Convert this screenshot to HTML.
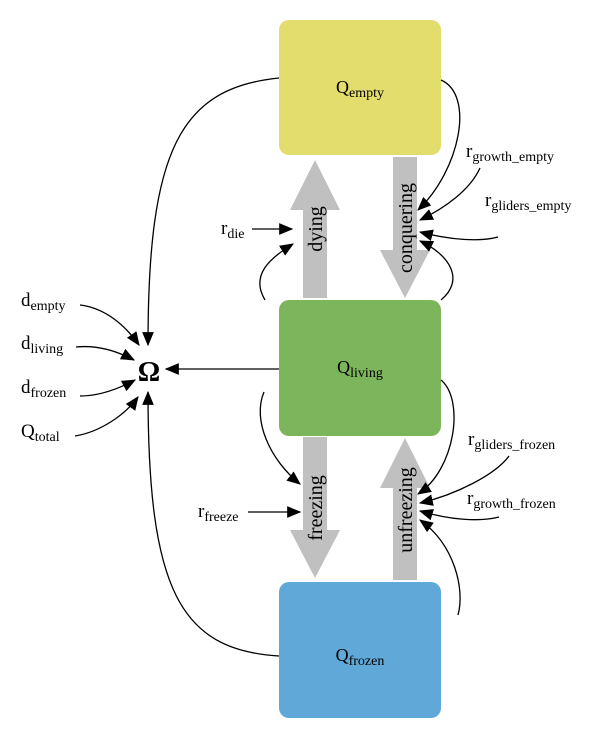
<!DOCTYPE html>
<html><head><meta charset="utf-8"><style>
html,body{margin:0;padding:0;background:#fff;}
svg{display:block;font-family:"Liberation Serif",serif;}
</style></head><body>
<svg width="600" height="741" viewBox="0 0 600 741" xmlns="http://www.w3.org/2000/svg">
<defs>
<marker id="a" viewBox="0 0 12 10" refX="11" refY="5" markerWidth="14" markerHeight="12" markerUnits="userSpaceOnUse" orient="auto">
<path d="M0,0 L12,5 L0,10 z" fill="#000"/>
</marker>
</defs>
<rect x="279" y="20" width="162" height="135" rx="10" fill="#e2dd6c"/>
<rect x="279" y="300" width="162" height="136" rx="10" fill="#7db55d"/>
<rect x="279" y="582" width="162" height="136" rx="10" fill="#5fa8d8"/>
<g font-size="18" text-anchor="middle">
<text x="360" y="93">Q<tspan font-size="14" dy="4">empty</tspan></text>
<text x="360" y="373">Q<tspan font-size="14" dy="4">living</tspan></text>
<text x="360" y="661">Q<tspan font-size="14" dy="4">frozen</tspan></text>
</g>
<g fill="#c0c0c0">
<polygon points="303,298 327,298 327,210 340,210 315,160 290,210 303,210"/>
<polygon points="393,157 417,157 417,250 430,250 405,298 380,250 393,250"/>
<polygon points="303,437 327,437 327,530 340,530 315,578 290,530 303,530"/>
<polygon points="393,580 417,580 417,488 430,488 405,438 380,488 393,488"/>
</g>
<g font-size="20" text-anchor="middle">
<text transform="translate(322,229) rotate(-90)">dying</text>
<text transform="translate(412,228) rotate(-90)">conquering</text>
<text transform="translate(322,508) rotate(-90)">freezing</text>
<text transform="translate(412,510) rotate(-90)">unfreezing</text>
</g>
<text x="149" y="381" font-size="28" font-weight="bold" text-anchor="middle">Ω</text>
<g fill="none" stroke="#000" stroke-width="1.3">
<path d="M279,78 C180,88 148,150 148,345" marker-end="url(#a)"/>
<path d="M279,369 L166,369" marker-end="url(#a)"/>
<path d="M279,656 C180,650 148,590 148,392" marker-end="url(#a)"/>
<path d="M80,305 C105,308 125,325 139,345" marker-end="url(#a)"/>
<path d="M76,347 C95,345 115,350 134,360" marker-end="url(#a)"/>
<path d="M80,396 C100,396 120,388 135,380" marker-end="url(#a)"/>
<path d="M75,436 C100,432 125,415 138,397" marker-end="url(#a)"/>
<path d="M252,229 L292,229" marker-end="url(#a)"/>
<path d="M265,300 C250,275 270,258 293,244" marker-end="url(#a)"/>
<path d="M441,80 C475,95 460,170 418,210" marker-end="url(#a)"/>
<path d="M480,168 C470,190 445,208 420,220" marker-end="url(#a)"/>
<path d="M498,237 C480,242 450,240 420,232" marker-end="url(#a)"/>
<path d="M441,300 C465,280 450,255 420,241" marker-end="url(#a)"/>
<path d="M264,392 C252,420 270,460 300,484" marker-end="url(#a)"/>
<path d="M248,512 L300,512" marker-end="url(#a)"/>
<path d="M441,380 C465,400 455,470 418,494" marker-end="url(#a)"/>
<path d="M509,456 C495,475 455,495 420,503" marker-end="url(#a)"/>
<path d="M499,517 C480,522 450,520 420,511" marker-end="url(#a)"/>
<path d="M458,615 C465,590 455,545 420,520" marker-end="url(#a)"/>
</g>
<g font-size="19">
<text x="21" y="306">d<tspan font-size="14" dy="4">empty</tspan></text>
<text x="21" y="349">d<tspan font-size="14" dy="4">living</tspan></text>
<text x="21" y="393">d<tspan font-size="14" dy="4">frozen</tspan></text>
<text x="21" y="437">Q<tspan font-size="14" dy="4">total</tspan></text>
<text x="221" y="234">r<tspan font-size="14" dy="4">die</tspan></text>
<text x="198" y="517">r<tspan font-size="14" dy="4">freeze</tspan></text>
<text x="466" y="157">r<tspan font-size="14" dy="4">growth_empty</tspan></text>
<text x="485" y="206">r<tspan font-size="14" dy="4">gliders_empty</tspan></text>
<text x="468" y="445">r<tspan font-size="14" dy="4">gliders_frozen</tspan></text>
<text x="467" y="504">r<tspan font-size="14" dy="4">growth_frozen</tspan></text>
</g>
</svg>
</body></html>
